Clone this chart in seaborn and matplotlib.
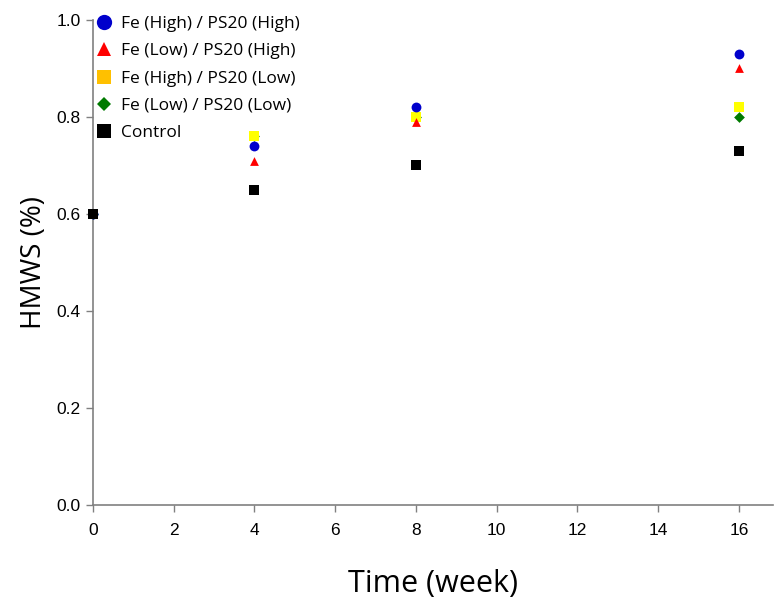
import matplotlib
matplotlib.use("Agg")
import matplotlib.pyplot as plt
from matplotlib.lines import Line2D
import seaborn as sns
import pandas as pd

weeks = [0, 4, 8, 16]
fe_high_ps20_high = [0.60, 0.74, 0.82, 0.93]
fe_low_ps20_high = [0.60, 0.71, 0.79, 0.90]
fe_high_ps20_low = [0.60, 0.76, 0.80, 0.82]
fe_low_ps20_low = [0.60, 0.76, 0.80, 0.80]
control = [0.60, 0.65, 0.70, 0.73]

series_names = [
    "Fe (Low) / PS20 (Low)",
    "Fe (High) / PS20 (Low)",
    "Fe (Low) / PS20 (High)",
    "Fe (High) / PS20 (High)",
    "Control",
]
series_values = [fe_low_ps20_low, fe_high_ps20_low, fe_low_ps20_high,
                 fe_high_ps20_high, control]
point_colors = {
    "Fe (High) / PS20 (High)": "#0000CC",
    "Fe (Low) / PS20 (High)": "#FF0000",
    "Fe (High) / PS20 (Low)": "#FFFF00",
    "Fe (Low) / PS20 (Low)": "#007A00",
    "Control": "#000000",
}
legend_colors = dict(point_colors)
legend_colors["Fe (High) / PS20 (Low)"] = "#FFC000"
markers = {
    "Fe (High) / PS20 (High)": "o",
    "Fe (Low) / PS20 (High)": "^",
    "Fe (High) / PS20 (Low)": "s",
    "Fe (Low) / PS20 (Low)": "D",
    "Control": "s",
}
sizes = {
    "Fe (High) / PS20 (High)": 50,
    "Fe (Low) / PS20 (High)": 40,
    "Fe (High) / PS20 (Low)": 58,
    "Fe (Low) / PS20 (Low)": 30,
    "Control": 60,
}

rows = []
for name, vals in zip(series_names, series_values):
    for w, v in zip(weeks, vals):
        rows.append({"week": w, "hmws": v, "group": name})
df = pd.DataFrame(rows)

sns.set_style("white")
fig = plt.figure(figsize=(7.74, 6.0), dpi=100)
ax = fig.add_axes([0.120, 0.158, 0.879, 0.809])

for i, name in enumerate(series_names):
    sub = df[df["group"] == name]
    sns.scatterplot(data=sub, x="week", y="hmws", ax=ax, color=point_colors[name],
                    marker=markers[name], s=sizes[name], linewidth=0, legend=False,
                    zorder=3 + i, clip_on=False)

ax.set_xlim(0, 16.85)
ax.set_ylim(0, 1.0)
ax.set_xticks(range(0, 17, 2))
ax.set_yticks([0.0, 0.2, 0.4, 0.6, 0.8, 1.0])
ax.set_yticklabels([f"{t:.1f}" for t in [0.0, 0.2, 0.4, 0.6, 0.8, 1.0]])
for lab in ax.get_xticklabels() + ax.get_yticklabels():
    lab.set_fontfamily("Liberation Sans")
    lab.set_fontsize(12.5)
    lab.set_color("black")
ax.tick_params(axis="both", which="major", direction="out", length=5, width=1,
               color="#808080", bottom=True, left=True, pad=4)
ax.tick_params(axis="x", pad=8)

for side in ["top", "right"]:
    ax.spines[side].set_visible(False)
for side in ["left", "bottom"]:
    ax.spines[side].set_color("#808080")
    ax.spines[side].set_linewidth(1.2)
    ax.spines[side].set_zorder(2)

ax.set_xlabel("Time (week)", fontsize=22, fontfamily="Open Sans", color="black",
              labelpad=22)
ax.set_ylabel("HMWS (%)", fontsize=20, fontfamily="Open Sans", color="black",
              labelpad=6)

legend_order = [
    "Fe (High) / PS20 (High)",
    "Fe (Low) / PS20 (High)",
    "Fe (High) / PS20 (Low)",
    "Fe (Low) / PS20 (Low)",
    "Control",
]
legend_sizes = {"o": 11, "^": 10, "s": 10, "D": 7}
handles = [Line2D([0], [0], linestyle="none", marker=markers[n],
                  markerfacecolor=legend_colors[n], markeredgewidth=0,
                  markersize=legend_sizes[markers[n]]) for n in legend_order]
leg = ax.legend(handles, legend_order, loc="upper left", bbox_to_anchor=(-0.016, 1.04),
                frameon=False, handlelength=0.7, handletextpad=0.65, labelspacing=0.64,
                prop={"family": "Open Sans", "size": 12.5})
for t in leg.get_texts():
    t.set_color("black")

fig.savefig("out.png", dpi=100)
